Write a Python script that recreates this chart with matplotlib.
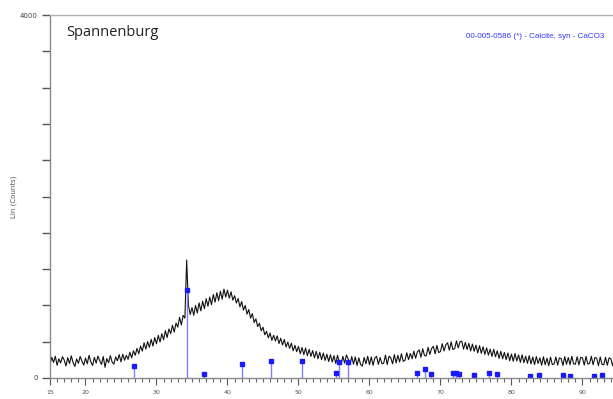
import numpy as np
import matplotlib
matplotlib.use('Agg')
import matplotlib.pyplot as plt
from matplotlib.ticker import FixedLocator, MultipleLocator

# measured pattern, Lin (Counts), 2-theta from 15 deg in 0.25 deg steps
counts = [
    150, 228, 172, 240, 140, 212, 166, 235, 198, 132, 225, 160,
    245, 170, 128, 210, 162, 238, 185, 142, 220, 156, 250, 178,
    138, 226, 164, 242, 190, 150, 236, 118, 214, 168, 246, 176,
    152, 232, 190, 258, 178, 262, 196, 250, 206, 284, 222, 300,
    250, 326, 268, 352, 296, 388, 318, 402, 338, 426, 352, 446,
    378, 470, 396, 488, 420, 522, 446, 540, 488, 582, 506, 606,
    560, 668, 584, 690, 660, 1300, 800, 700,
    776, 690, 800, 716, 828, 740, 846, 764, 874, 790, 892, 808,
    920, 836, 940, 852, 956, 868, 980, 892, 968, 880, 950, 858,
    906, 826, 876, 784, 842, 748, 800, 704, 754, 660, 710, 612,
    652, 566, 602, 520, 560, 476, 514, 442, 496, 414, 470, 408,
    464, 380, 438, 364, 424, 342, 396, 326, 384, 300, 360, 290,
    348, 268, 336, 258, 330, 246, 316, 238, 302, 222, 294, 212,
    284, 202, 276, 194, 262, 182, 256, 176,
    246, 160, 250, 170, 150, 238, 164, 254, 210, 146, 236, 152,
    232, 138, 222, 148, 132, 226, 156, 240, 146, 232, 140, 220,
    238, 150, 226, 158, 162, 252, 148, 240, 222, 156, 258, 166,
    250, 176, 268, 184, 194, 278, 202, 270, 212, 296, 218, 288,
    310, 228, 322, 246, 244, 338, 260, 326, 348, 266, 360, 280,
    292, 378, 298, 366, 388, 306, 398, 314, 324, 410, 332, 398,
    406, 318, 392, 314, 382, 298, 374, 294, 362, 276, 356, 272,
    344, 260, 332, 252, 318, 238, 316, 234, 300, 216, 294, 212,
    282, 202, 276, 190, 264, 184, 270, 188, 254, 172, 256, 168,
    240, 162, 246, 156, 232, 148, 236, 160, 222, 140, 234, 146,
    218, 136, 230, 148, 154, 232, 142, 222, 214, 138, 236, 151,
    226, 146, 240, 156, 152, 234, 144, 228, 222, 142, 238, 154,
    160, 240, 146, 226, 218, 136, 232, 150, 146, 228, 140, 222,
    212, 134, 224,
]
two_theta = 15 + 0.25 * np.arange(len(counts))

# reference pattern 00-005-0586 calcite (stick positions and heights)
stick_pos = [26.80, 34.28, 36.65, 42.02, 46.09, 50.55, 55.32, 55.76, 56.98,
             66.75, 67.79, 68.62, 71.83, 72.21, 72.65, 74.78, 76.81, 77.96,
             82.56, 83.84, 87.21, 88.31, 91.67, 92.82]
stick_h = [135, 970, 44, 150, 185, 185, 58, 175, 175,
           55, 95, 40, 60, 50, 45, 35, 60, 40,
           25, 35, 35, 25, 25, 35]

x_labels = [15, 20, 30, 40, 50, 60, 70, 80, 90]

fig = plt.figure(figsize=(6.13, 3.99), dpi=100, facecolor='white')
ax = fig.add_axes([50 / 613, 1 - 378 / 399, 563 / 613, 363 / 399])

ax.plot(two_theta, counts, color='#111111', lw=0.8)
ax.vlines(stick_pos, 0, stick_h, color='#8080ff', lw=1.0)
ax.plot(stick_pos, stick_h, 's', color='#1a1aff', ms=2.8, mec='#1a1aff')

ax.set_xlim(15, 94.3)
ax.set_ylim(0, 4000)

ax.spines['right'].set_visible(False)
ax.spines['left'].set_color('#8a8a8a')
ax.spines['bottom'].set_color('#8a8a8a')
ax.spines['top'].set_color('#b0b0b0')
for s in ['left', 'bottom', 'top']:
    ax.spines[s].set_linewidth(1.0)

ax.yaxis.set_major_locator(FixedLocator(np.arange(0, 4001, 400)))
ax.set_yticklabels(['0'] + [''] * 9 + ['4000'])
ax.tick_params(axis='y', direction='out', length=6, width=1.0,
               color='#555555', labelsize=5, labelcolor='#444444', pad=3)

ax.xaxis.set_major_locator(FixedLocator(x_labels))
ax.xaxis.set_minor_locator(MultipleLocator(1))
ax.set_xticklabels([str(v) for v in x_labels])
ax.tick_params(axis='x', which='major', direction='out', length=5, width=0.8,
               color='#555555', labelsize=4.5, labelcolor='#555555', pad=4)
ax.tick_params(axis='x', which='minor', direction='out', length=3, width=0.8,
               color='#666666')

ax.set_ylabel('Lin (Counts)', fontsize=5, color='#555555', labelpad=2)

ax.text(0.028, 0.953, 'Spannenburg', transform=ax.transAxes, fontsize=10.5,
        family='Open Sans', color='#222222', va='center', ha='left')
ax.text(0.984, 0.94, '00-005-0586 (*) - Calcite, syn - CaCO3',
        transform=ax.transAxes, fontsize=5.8, family='Liberation Sans',
        color='#3535ff', va='center', ha='right')

fig.savefig('out.png', dpi=100, facecolor='white')
